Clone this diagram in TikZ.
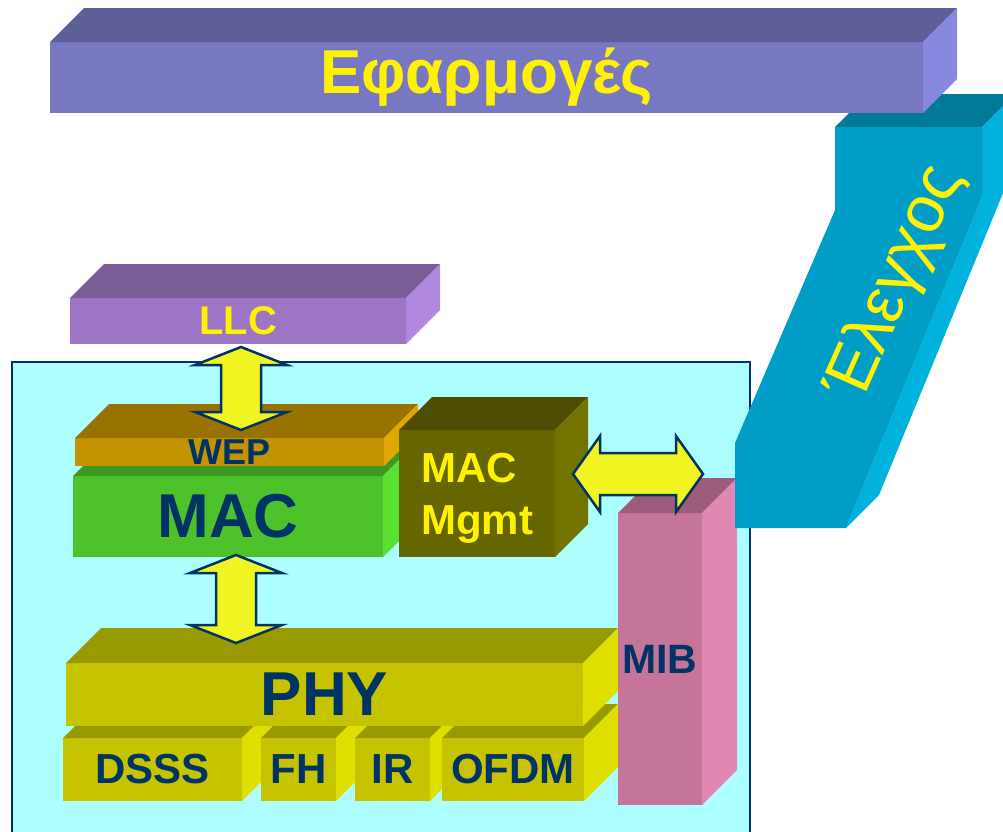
\documentclass[tikz,border=0pt]{standalone}
\usepackage{fontspec}
\setsansfont{Liberation Sans}
\usetikzlibrary{calc}

\definecolor{navy}{RGB}{0,51,102}
\definecolor{panelfill}{RGB}{173,255,255}
\definecolor{arrowfill}{RGB}{240,245,34}
\definecolor{appfront}{RGB}{119,119,194}
\definecolor{apptop}{RGB}{94,94,153}
\definecolor{appside}{RGB}{136,136,224}
\definecolor{llcfront}{RGB}{156,118,196}
\definecolor{llctop}{RGB}{122,92,150}
\definecolor{llcside}{RGB}{176,136,224}
\definecolor{wepfront}{RGB}{196,148,0}
\definecolor{weptop}{RGB}{153,115,0}
\definecolor{wepside}{RGB}{224,168,0}
\definecolor{macfront}{RGB}{78,194,42}
\definecolor{mactop}{RGB}{61,153,34}
\definecolor{macside}{RGB}{90,224,48}
\definecolor{mgmtfront}{RGB}{102,102,0}
\definecolor{mgmttop}{RGB}{77,77,0}
\definecolor{mgmtside}{RGB}{115,115,0}
\definecolor{phyfront}{RGB}{198,196,0}
\definecolor{phytop}{RGB}{153,153,0}
\definecolor{physide}{RGB}{224,224,0}
\definecolor{mibfront}{RGB}{196,117,153}
\definecolor{mibtop}{RGB}{156,92,122}
\definecolor{mibside}{RGB}{224,136,178}
\definecolor{ctrlfront}{RGB}{0,158,198}
\definecolor{ctrltop}{RGB}{0,122,150}
\definecolor{ctrlside}{RGB}{0,178,220}

% top and right faces of a slab: node, depth, top colour, side colour
\newcommand{\sides}[4]{%
  \fill[#3] (#1.north west) -- ++(#2,-#2) -- ($(#1.north east)+(#2,-#2)$) -- (#1.north east) -- cycle;
  \fill[#4] (#1.north east) -- ++(#2,-#2) -- ($(#1.south east)+(#2,-#2)$) -- (#1.south east) -- cycle;
}

\tikzset{
  slab/.style={inner sep=0pt, outer sep=0pt},
  txt/.style={font=\sffamily\bfseries\fontsize{#1}{#1}\selectfont},
  blockarrow/.style={fill=arrowfill, draw=navy, line width=2.5pt, line join=miter},
  pics/updown/.style={code={
    \filldraw[blockarrow] (0,0) -- (46,18) -- (20,18) -- (20,#1-18) -- (46,#1-18) -- (0,#1)
      -- (-46,#1-18) -- (-20,#1-18) -- (-20,18) -- (-46,18) -- cycle;
  }},
  pics/leftright/.style={code={
    \filldraw[blockarrow] (0,0) -- (27,-38) -- (27,-21) -- (#1-27,-21) -- (#1-27,-38) -- (#1,0)
      -- (#1-27,38) -- (#1-27,21) -- (27,21) -- (27,38) -- cycle;
  }},
}

\begin{document}
\begin{tikzpicture}[x=1pt,y=-1pt]
\useasboundingbox (0,0) rectangle (1003,831);

% station box
\node[slab, anchor=north west, fill=panelfill, draw=navy, line width=2pt,
  minimum width=738pt, minimum height=490pt] (panel) at (12,362) {};

% LLC
\node[slab, txt=40, text=yellow, fill=llcfront, minimum width=336pt, minimum height=46pt] (llc) at (238,321) {LLC};
\sides{llc}{34}{llctop}{llcside}

% MAC and WEP
\node[slab, txt=62, text=navy, fill=macfront, minimum width=310pt, minimum height=81pt] (mac) at (228,516.5) {MAC};
\sides{mac}{33}{mactop}{macside}
\node[slab, txt=36, text=navy, fill=wepfront, minimum width=309pt, minimum height=28pt] (wep) at (229.5,452) {WEP};
\sides{wep}{34}{weptop}{wepside}

% MAC management
\node[slab, font=\sffamily\bfseries\fontsize{42}{52}\selectfont, text=yellow, align=left, text depth=0pt,
  fill=mgmtfront, minimum width=156pt, minimum height=127pt] (mgmt) at (477,493.5) {MAC\\Mgmt};
\sides{mgmt}{33}{mgmttop}{mgmtside}

\pic at ($(llc.south)+(3,3)$) {updown=83};

% PHY and its variants
\node[slab, txt=42, text=navy, fill=phyfront, minimum width=179pt, minimum height=63pt] (dsss) at (152.5,769.5) {DSSS};
\sides{dsss}{33}{phytop}{physide}
\node[slab, txt=42, text=navy, fill=phyfront, minimum width=75pt, minimum height=63pt] (fh) at (298.5,769.5) {FH};
\sides{fh}{33}{phytop}{physide}
\node[slab, txt=42, text=navy, fill=phyfront, minimum width=75pt, minimum height=63pt] (ir) at (392.5,769.5) {IR};
\sides{ir}{33}{phytop}{physide}
\node[slab, txt=42, text=navy, fill=phyfront, minimum width=142pt, minimum height=63pt] (ofdm) at (513,769.5) {OFDM};
\sides{ofdm}{34}{phytop}{physide}
\node[slab, txt=62, text=navy, fill=phyfront, minimum width=517pt, minimum height=63pt] (phy) at (324.5,694.5) {PHY};
\sides{phy}{35}{phytop}{physide}

\pic at ($(mac.south)+(8,-2)$) {updown=88};

% MIB
\node[slab, txt=41, text=navy, fill=mibfront, minimum width=84pt, minimum height=292pt] (mib) at (660,659) {MIB};
\sides{mib}{35}{mibtop}{mibside}

\pic at ($(mgmt.east)+(18,-19.5)$) {leftright=130};

% control column
\fill[ctrltop] (835,127) -- (868,94) -- (1015,94) -- (982,127) -- cycle;
\fill[ctrlside] (982,127) -- (1015,94) -- (1015,164) -- (879,495) -- (846,528) -- (982,197) -- cycle;
\fill[ctrlfront] (835,127) -- (982,127) -- (982,197) -- (846,528) -- (735,528) -- (735,443) -- (835,210) -- cycle;
\node[font=\sffamily\fontsize{66}{66}\selectfont, text=yellow, rotate=66] (ctrl) at (896,283) {Έλεγχος};

% applications
\node[slab, txt=62, text=yellow, fill=appfront, minimum width=873pt, minimum height=71pt] (app) at (486.5,77.5) {Εφαρμογές};
\sides{app}{34}{apptop}{appside}
\end{tikzpicture}
\end{document}
